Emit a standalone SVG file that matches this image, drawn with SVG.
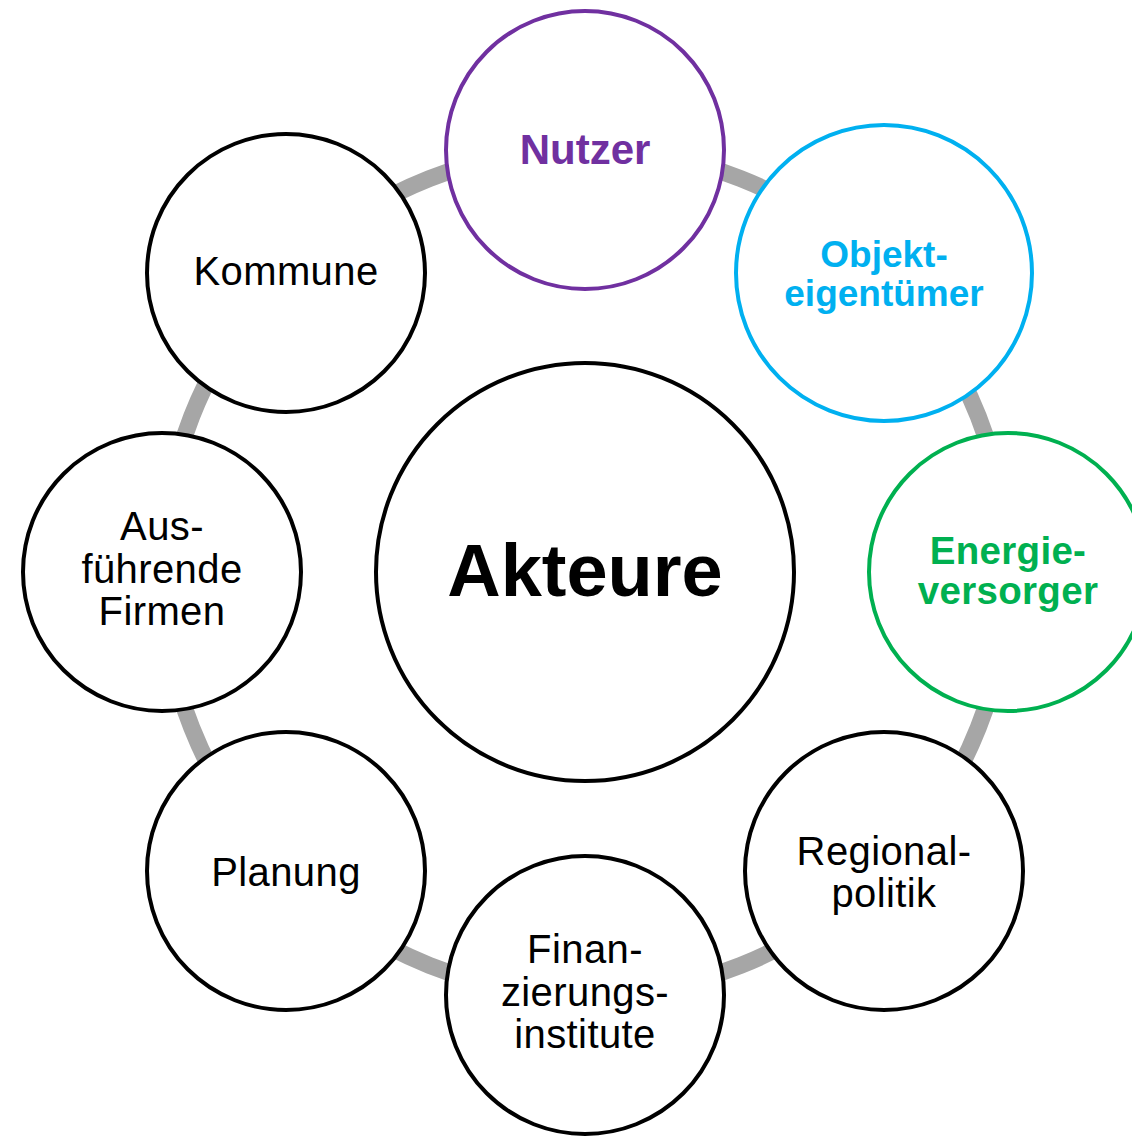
<svg xmlns="http://www.w3.org/2000/svg" width="1132" height="1136" viewBox="0 0 1132 1136">
<style>
.n{fill:#fff;stroke-width:4}
.k{stroke:#000}
.t{font-family:"Liberation Sans",Arial,sans-serif;text-anchor:middle;font-size:40px;letter-spacing:0.4px;fill:#000}
.b{font-weight:bold;letter-spacing:0}
</style>
<rect width="1132" height="1136" fill="#fff"/>
<g id="connectors">
<circle cx="585" cy="572" r="423" fill="none" stroke="#A6A6A6" stroke-width="17"/>
</g>
<g id="akteure">
<circle class="n k" cx="585" cy="572" r="209"/>
<text class="t b" x="585" y="596" style="font-size:74px">Akteure</text>
</g>
<g id="nutzer">
<circle class="n" stroke="#7030A0" cx="585" cy="150" r="139"/>
<text class="t b" x="585" y="164" style="font-size:42px;fill:#7030A0">Nutzer</text>
</g>
<g id="objekteigentuemer">
<circle class="n" stroke="#00B0F0" cx="884" cy="273" r="148"/>
<text class="t b" style="font-size:37px;fill:#00B0F0"><tspan x="884" y="267">Objekt-</tspan><tspan x="884" y="306">eigentümer</tspan></text>
</g>
<g id="energieversorger">
<circle class="n" stroke="#00B050" cx="1008" cy="572" r="139"/>
<text class="t b" style="font-size:38.5px;letter-spacing:0.3px;fill:#00B050"><tspan x="1008" y="564">Energie-</tspan><tspan x="1008" y="604">versorger</tspan></text>
</g>
<g id="regionalpolitik">
<circle class="n k" cx="884" cy="871" r="139"/>
<text class="t"><tspan x="884" y="865">Regional-</tspan><tspan x="884" y="907">politik</tspan></text>
</g>
<g id="finanzierungsinstitute">
<circle class="n k" cx="585" cy="995" r="139"/>
<text class="t"><tspan x="585" y="963">Finan-</tspan><tspan x="585" y="1006">zierungs-</tspan><tspan x="585" y="1048">institute</tspan></text>
</g>
<g id="planung">
<circle class="n k" cx="286" cy="871" r="139"/>
<text class="t" x="286" y="886">Planung</text>
</g>
<g id="ausfuehrende">
<circle class="n k" cx="162" cy="572" r="139"/>
<text class="t"><tspan x="162" y="540">Aus-</tspan><tspan x="162" y="583">führende</tspan><tspan x="162" y="625">Firmen</tspan></text>
</g>
<g id="kommune">
<circle class="n k" cx="286" cy="273" r="139"/>
<text class="t" x="286" y="285">Kommune</text>
</g>
</svg>
